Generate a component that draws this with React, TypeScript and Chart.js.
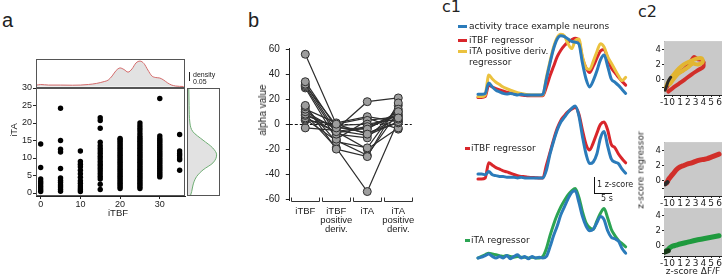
import React, { useEffect, useRef } from 'react';
import { Chart, registerables } from 'chart.js';

Chart.register(...registerables);

const SANS = '"Liberation Sans", Arial, sans-serif';
const DEJAVU = '"DejaVu Sans", sans-serif';
const INK = '#222';

// ---------------- Panel a: scatter iTBF vs iTA ----------------
const aColumnsITBF = [0, 5, 10, 15, 20, 25, 30, 35];
const aITAat0 = [14, 7.3, 4, 3.3, 2.7, 2.1, 1.5, 0.9, 0.4];
const aITAat5 = [24.2, 15, 12.5, 11.7, 7, 4.3, 3.6, 3, 2.3, 1.7, 1.1, 0.5];
const aITAat10 = [12, 9, 8.2, 7.5, 6.5, 5.5, 4.5, 3.5, 2.8, 2, 1.4, 0.9, 0.4];
const aITAat15 = [21.5, 20.7, 18.5, 14.5, 13.5, 12.7, 12, 11.3, 10.5, 9.8, 9, 8.3, 7.7, 7, 6.3, 5.5, 4.7, 4, 2.5, 1];
const aITAat20 = [1.3, 1.8, 2.3, 2.8, 3.3, 3.8, 4.3, 4.8, 5.3, 5.8, 6.3, 6.8, 7.3, 7.8, 8.3, 8.8, 9.3, 9.8, 10.3, 10.8, 11.3, 11.8, 12.3, 12.8, 13.3, 13.8, 14.3, 14.8, 15.3, 15.6];
const aITAat25 = [1.3, 1.8, 2.3, 2.8, 3.3, 3.8, 4.3, 4.8, 5.3, 5.8, 6.3, 6.8, 7.3, 7.8, 8.3, 8.8, 9.3, 9.8, 10.3, 10.8, 11.3, 11.8, 12.3, 12.8, 13.3, 13.8, 14.3, 14.8, 15.3, 15.8, 16.3, 17, 17.8, 18.5, 19.2, 20];
const aITAat30 = [27, 4.6, 5.1, 5.6, 6.1, 6.6, 7.1, 7.6, 8.1, 8.6, 9.1, 9.6, 10.1, 10.6, 11.1, 11.6, 12.1, 12.6, 13.1, 13.6, 14.1, 14.6, 15.1, 15.6, 16.3];
const aITAat35 = [16.7, 12, 11.3, 10.7, 10, 9.5, 6.5];
const aITAColumns = [aITAat0, aITAat5, aITAat10, aITAat15, aITAat20, aITAat25, aITAat30, aITAat35];
const aXTicks = [0, 10, 20, 30];
const aYTicks = [0, 5, 10, 15, 20, 25, 30];

const aDensityX = [-1, 0, 2, 5, 8, 10, 12, 14, 16, 17, 18, 19, 20, 21, 22, 23, 24, 25, 26, 27, 28, 29, 30, 31, 32, 33, 34, 36];
const aDensityITBF = [0.009, 0.0125, 0.009, 0.009, 0.008, 0.009, 0.0125, 0.019, 0.031, 0.04, 0.066, 0.1, 0.116, 0.106, 0.09, 0.11, 0.147, 0.159, 0.144, 0.103, 0.066, 0.056, 0.053, 0.04, 0.022, 0.009, 0.003, 0];
const aDensityYITA = [-0.8, 0.4, 2, 3.2, 4.7, 6.6, 8.6, 10.9, 12.9, 15.1, 17.5, 20, 25, 30];
const aDensityITA = [0.015, 0.023, 0.03, 0.0375, 0.054, 0.094, 0.156, 0.179, 0.154, 0.094, 0.031, 0.012, 0.007, 0.005];

// ---------------- Panel b: alpha values ----------------
const bCategories = [['iTBF'], ['iTBF', 'positive', 'deriv.'], ['iTA'], ['iTA', 'positive', 'deriv.']];
const bAlphaITBF = [56, 34, 32, 31, 30, 29, 15, 14, 12, 10, 8, 7, 5, 4, 3, -3, 9];
const bAlphaITBFDeriv = [0, -3, -6, -1, -8, -12, -20, -14, 1, -4, -19, -2, -6, -13, 0, -5, -7];
const bAlphaITA = [-8, -4, -2, 0, -11, 3, -26, -19, 6, 18, -54, -7, -20, -25, 5, -9, -3];
const bAlphaITADeriv = [5, 10, 8, 4, 12, 6, 17, 15, 2, 21, 3, 1, -3, 10, -4, 2, 7];
const bYTicks = [-60, -40, -20, 0, 20, 40, 60];

// ---------------- Panel c1: traces (z-score) ----------------
const c1Time = [0, 1, 2, 3, 4, 5, 6, 7, 8, 9, 10, 11, 12, 13, 14, 15, 16, 17, 18, 19, 20, 21, 22, 23, 24, 25, 26, 27, 28, 29, 30, 31, 32, 33, 34, 35, 36, 37, 38, 39, 40, 41];
const c1TopActivity = [0.05, 0.05, 0.1, 0.75, 0.5, 0.3, 0.2, 0.1, 0.06, 0.1, 0.05, 0, 0.05, 0, 0, 0, 0, 0, 0.05, 1.0, 2.0, 2.9, 3.5, 3.7, 3.65, 3.5, 3.35, 3.3, 3.2, 2.0, 1.0, 0.5, 0.9, 1.5, 2.2, 2.5, 1.8, 1.0, 0.8, 0.6, 0.35, 0.1];
const c1TopITBF = [-0.15, -0.15, -0.1, 0.62, 0.5, 0.4, 0.32, 0.25, 0.18, 0.12, 0.08, 0.04, 0, -0.03, -0.05, -0.05, -0.05, -0.05, -0.05, 0.5, 1.2, 1.8, 2.4, 2.8, 3.1, 3.3, 3.45, 3.55, 3.4, 2.3, 1.7, 1.4, 1.8, 2.3, 2.75, 2.85, 2.3, 1.7, 1.4, 1.1, 0.85, 0.62];
const c1TopITADeriv = [-0.1, -0.1, 0, 1.25, 1.0, 0.8, 0.65, 0.5, 0.4, 0.3, 0.22, 0.15, 0.1, 0.05, 0.02, 0, 0, 0, 0, 1.1, 2.1, 3.0, 3.6, 3.8, 3.7, 3.2, 2.9, 3.4, 3.5, 2.4, 1.7, 1.6, 2.1, 2.7, 3.2, 3.0, 2.4, 2.0, 1.6, 1.2, 0.9, 1.1];
const c1MidActivity = [0.25, 0.25, 0.2, 0.4, 0.2, 0.15, 0.1, 0.1, 0.05, 0.05, 0.05, 0, 0.05, 0, 0, 0, 0, 0, 0, 0.5, 1.5, 2.3, 3.0, 3.5, 3.8, 4.1, 4.35, 4.5, 3.9, 2.6, 1.5, 0.9, 1.0, 1.5, 2.5, 2.9, 2.0, 1.2, 1.0, 0.9, 0.55, 0.3];
const c1MidITBF = [-0.06, -0.06, 0, 0.95, 0.8, 0.65, 0.55, 0.45, 0.38, 0.3, 0.22, 0.15, 0.1, 0.08, 0.05, 0.03, 0.02, 0, 0, 0.8, 1.6, 2.4, 3.1, 3.6, 3.9, 4.15, 4.3, 4.4, 4.0, 3.0, 2.1, 1.75, 2.2, 2.8, 3.35, 3.5, 3.0, 2.1, 1.9, 1.5, 1.2, 0.95];
const c1BotActivity = [0, 0.05, 0.15, 0.25, 0.1, 0, 0.1, 0, 0.15, -0.05, 0.1, 0.2, 0, 0.1, -0.05, 0.1, 0, 0.05, 0, 0.1, 0.7, 1.4, 2.0, 2.7, 3.2, 3.7, 4.1, 4.2, 3.5, 2.6, 2.0, 1.7, 1.8, 2.2, 2.6, 2.4, 1.7, 1.3, 1.2, 1.05, 0.6, 0.3];
const c1BotITA = [0, 0.1, 0.2, 0.3, 0.25, 0.2, 0.15, 0.1, 0.15, 0.1, 0.05, 0.1, 0.05, 0.05, 0, 0.05, 0, 0, 0.1, 0.6, 1.4, 2.1, 2.7, 3.2, 3.6, 3.95, 4.2, 4.35, 3.8, 2.9, 2.2, 1.9, 1.8, 2.3, 2.8, 3.1, 2.5, 1.8, 1.4, 1.1, 0.9, 0.7];

// ---------------- Panel c2: regressor vs dF/F ----------------
const c2XTicks = [-1, 0, 1, 2, 3, 4, 5, 6];
const c2YTicks = [-1, 0, 2, 4];
const c2YLabelled = [0, 2, 4];
const c2P1RedUpperDF = [-0.8, -0.3, 0.3, 1, 1.6, 2.2, 2.8, 3.2, 3.8, 4.0];
const c2P1RedUpperReg = [-1.2, -0.3, 0.4, 1.0, 1.4, 2.1, 3.0, 2.7, 2.6, 2.3];
const c2P1RedLowerDF = [4.0, 4.0, 3.4, 2.5, 1.6, 0.8, 0, -0.5];
const c2P1RedLowerReg = [2.3, 1.7, 1.3, 0.7, 0.0, -0.6, -1.2, -1.6];
const c2P1YellowDF = [-0.9, -0.6, 0, 0.6, 1.2, 1.8, 2.5, 3.2, 3.8, 3.9, 3.3, 2.6, 2.0, 1.4, 0.8, 0.3, -0.3];
const c2P1YellowReg = [-1.3, -0.5, 0.4, 1.2, 1.8, 2.2, 2.5, 2.8, 2.8, 2.3, 2.0, 2.1, 1.6, 1.2, 0.8, 0.2, -0.6];
const c2P1BlackDF = [-0.9, -0.7, -0.5, -0.2];
const c2P1BlackReg = [-1.4, -0.8, -0.2, 0.3];
const c2P2RedDF = [-0.9, -0.7, -0.5, -0.2, 0.2, 0.6, 1.0, 1.5, 2, 2.5, 3, 3.5, 4, 4.5, 5, 5.5, 6];
const c2P2RedReg = [-0.4, -0.3, 0.1, 0.5, 1.0, 1.5, 1.8, 2.0, 2.2, 2.35, 2.55, 2.7, 2.8, 2.9, 3.1, 3.3, 3.5];
const c2P2BlackDF = [-0.9, -0.6];
const c2P2BlackReg = [-0.5, -0.2];
const c2P3GreenDF = [-0.9, -0.6, -0.3, 0, 0.5, 1, 2, 3, 4, 5, 6];
const c2P3GreenReg = [-0.8, -0.6, -0.3, -0.1, 0.05, 0.2, 0.45, 0.7, 0.9, 1.1, 1.3];
const c2P3BlackDF = [-1, -0.5];
const c2P3BlackReg = [-0.9, -0.7];

const BLUE = '#2b7bba';
const RED = '#d9262b';
const YELLOW = '#ebc23f';
const GREEN = '#2ca453';

const pairs = (xs: number[], ys: number[]) => xs.map((x, i) => ({ x, y: ys[i] }));

const baseOptions = (extra: any) => ({
  animation: false,
  responsive: false,
  maintainAspectRatio: false,
  devicePixelRatio: 1,
  events: [],
  plugins: { legend: { display: false }, tooltip: { enabled: false } },
  ...extra,
});

const framePlugin = (color: string) => ({
  id: 'frame',
  afterDatasetsDraw(chart: any) {
    const { ctx, chartArea } = chart;
    const l = Math.round(chartArea.left), t = Math.round(chartArea.top);
    const r = Math.round(chartArea.right), b = Math.round(chartArea.bottom);
    ctx.save();
    ctx.strokeStyle = color;
    ctx.lineWidth = 1;
    ctx.strokeRect(l + 0.5, t + 0.5, r - l - 1, b - t - 1);
    ctx.restore();
  },
});

const grayBgPlugin = {
  id: 'graybg',
  beforeDatasetsDraw(chart: any) {
    const { ctx, chartArea } = chart;
    ctx.save();
    ctx.fillStyle = '#c9c9c9';
    ctx.fillRect(chartArea.left, chartArea.top, chartArea.right - chartArea.left, chartArea.bottom - chartArea.top);
    ctx.restore();
  },
};

const zeroLinePlugin = {
  id: 'zeroline',
  beforeDatasetsDraw(chart: any) {
    const { ctx, chartArea, scales } = chart;
    const y = Math.round(scales.y.getPixelForValue(0)) + 0.5;
    ctx.save();
    ctx.strokeStyle = '#111';
    ctx.lineWidth = 1;
    ctx.setLineDash([3, 2]);
    ctx.beginPath();
    ctx.moveTo(chartArea.left, y);
    ctx.lineTo(chartArea.right - 2, y);
    ctx.stroke();
    ctx.restore();
  },
};

const bracketPlugin = {
  id: 'brackets',
  afterDraw(chart: any) {
    const { ctx, scales } = chart;
    const xs = scales.x;
    const y = Math.round(scales.y.bottom) + 1.5;
    ctx.save();
    ctx.strokeStyle = '#333';
    ctx.lineWidth = 1;
    for (let i = 0; i < bCategories.length; i++) {
      const c = xs.getPixelForTick(i);
      const l = Math.round(c - 14) + 0.5, r = Math.round(c + 14) + 0.5;
      ctx.beginPath();
      ctx.moveTo(l, y - 4);
      ctx.lineTo(l, y);
      ctx.lineTo(r, y);
      ctx.lineTo(r, y - 4);
      ctx.stroke();
    }
    ctx.restore();
  },
};

function ChartBox({ left, top, width, height, build }: { left: number; top: number; width: number; height: number; build: () => any }) {
  const ref = useRef<HTMLCanvasElement>(null);
  useEffect(() => {
    const chart = new Chart(ref.current as HTMLCanvasElement, build());
    return () => chart.destroy();
  }, []);
  return <canvas ref={ref} width={width} height={height} style={{ position: 'absolute', left, top, width, height }} />;
}

function Txt({ x, y, size, family, children, align, color }: any) {
  const tx = align === 'left' ? '0' : align === 'right' ? '-100%' : '-50%';
  return (
    <div
      style={{
        position: 'absolute', left: x, top: y,
        transform: `translate(${tx}, -50%)`,
        fontFamily: family || SANS, fontSize: size, lineHeight: 1,
        whiteSpace: 'nowrap', color: color || INK,
      }}
    >
      {children}
    </div>
  );
}

function Rotated({ x, y, size, family, children }: any) {
  return (
    <div
      style={{
        position: 'absolute', left: x, top: y,
        transform: 'translate(-50%, -50%) rotate(-90deg)',
        fontFamily: family || SANS, fontSize: size, lineHeight: 1,
        whiteSpace: 'nowrap', color: INK,
      }}
    >
      {children}
    </div>
  );
}

function Box({ x, y, w, h, color }: any) {
  return <div style={{ position: 'absolute', left: x, top: y, width: w, height: h, background: color }} />;
}

// ---------- chart builders ----------
const buildScatterA = () => ({
  type: 'scatter',
  data: {
    datasets: [
      {
        data: aColumnsITBF.flatMap((x, i) => aITAColumns[i].map((y) => ({ x, y }))),
        pointRadius: 2.7,
        pointBackgroundColor: '#000',
        pointBorderWidth: 0,
        borderWidth: 0,
      },
    ],
  },
  options: baseOptions({
    layout: { padding: { top: 10, right: 5, left: 0, bottom: 0 } },
    scales: {
      x: {
        type: 'linear', min: -1.18, max: 36.35,
        afterBuildTicks: (s: any) => { s.ticks = aXTicks.map((v) => ({ value: v })); },
        afterFit: (s: any) => { s.height = 30; },
        grid: { drawOnChartArea: false, tickLength: 3, color: INK },
        border: { color: INK },
        ticks: { font: { family: SANS, size: 9 }, color: INK, padding: 0, maxRotation: 0, autoSkip: false },
      },
      y: {
        type: 'linear', min: -0.857, max: 30,
        afterBuildTicks: (s: any) => { s.ticks = aYTicks.map((v) => ({ value: v })); },
        afterFit: (s: any) => { s.width = 36; },
        grid: { drawOnChartArea: false, tickLength: 3, color: INK },
        border: { color: INK },
        ticks: { font: { family: SANS, size: 9 }, color: INK, padding: 1, autoSkip: false },
      },
    },
  }),
  plugins: [framePlugin('#555')],
});

const buildTopDensity = () => ({
  type: 'line',
  data: {
    datasets: [
      {
        data: pairs(aDensityX, aDensityITBF),
        borderColor: '#d46b6b', borderWidth: 1, backgroundColor: '#e2e2e2',
        fill: 'origin', pointRadius: 0, cubicInterpolationMode: 'monotone',
      },
    ],
  },
  options: baseOptions({
    layout: { padding: 1 },
    scales: {
      x: { type: 'linear', display: false, min: -1.18, max: 36.35 },
      y: { type: 'linear', display: false, min: -0.0094, max: 0.172 },
    },
  }),
  plugins: [framePlugin('#555')],
});

const buildRightDensity = () => ({
  type: 'line',
  data: {
    datasets: [
      {
        data: pairs(aDensityITA, aDensityYITA),
        borderColor: '#6fae74', borderWidth: 1, backgroundColor: '#e2e2e2',
        fill: 'origin', pointRadius: 0, cubicInterpolationMode: 'monotone',
      },
    ],
  },
  options: baseOptions({
    indexAxis: 'y',
    layout: { padding: 1 },
    scales: {
      x: { type: 'linear', display: false, min: -0.00625, max: 0.2 },
      y: { type: 'linear', display: false, min: -0.857, max: 30 },
    },
  }),
  plugins: [framePlugin('#555')],
});

const buildAlpha = () => {
  const rows = bAlphaITBF.map((v, i) => [v, bAlphaITBFDeriv[i], bAlphaITA[i], bAlphaITADeriv[i]]);
  const lineSets = rows.map((r) => ({
    data: r, borderColor: '#2e2e2e', borderWidth: 1.2, pointRadius: 0, order: 1,
  }));
  const pointSets = rows.map((r) => ({
    data: r, showLine: false, pointRadius: 4, pointBackgroundColor: '#9d9d9d',
    pointBorderColor: '#2e2e2e', pointBorderWidth: 1, order: 0,
  }));
  return {
    type: 'line',
    data: { labels: bCategories, datasets: [...lineSets, ...pointSets] },
    options: baseOptions({
      layout: { padding: { top: 8.7, right: 5, left: 0, bottom: 0 } },
      scales: {
        x: {
          type: 'category', offset: true,
          grid: { display: false, drawTicks: false },
          border: { display: false },
          afterFit: (s: any) => { s.height = 35.7; },
          ticks: { font: { family: SANS, size: 9.5, lineHeight: '8.8px' }, color: INK, padding: 7, maxRotation: 0, autoSkip: false },
        },
        y: {
          type: 'linear', min: -61, max: 61,
          afterBuildTicks: (s: any) => { s.ticks = bYTicks.map((v) => ({ value: v })); },
          afterFit: (s: any) => { s.width = 49.8; },
          grid: { drawOnChartArea: false, tickLength: 4, color: INK },
          border: { color: INK },
          ticks: { font: { family: SANS, size: 10 }, color: INK, padding: 6, autoSkip: false },
        },
      },
    }),
    plugins: [zeroLinePlugin, bracketPlugin],
  };
};

const traceSet = (values: number[], color: string) => ({
  data: pairs(c1Time, values),
  borderColor: color, borderWidth: 3, pointRadius: 0,
  cubicInterpolationMode: 'monotone', borderCapStyle: 'round', borderJoinStyle: 'round',
});

const buildTraces = (sets: any[], yMin: number, yMax: number) => () => ({
  type: 'line',
  data: { datasets: sets },
  options: baseOptions({
    layout: { padding: 0 },
    scales: {
      x: { type: 'linear', display: false, min: -1.1, max: 42.2 },
      y: { type: 'linear', display: false, min: yMin, max: yMax },
    },
  }),
});

const band = (xs: number[], ys: number[], color: string, width: number) => ({
  data: pairs(xs, ys), showLine: true, borderColor: color, borderWidth: width,
  pointRadius: 0, tension: 0.3, borderCapStyle: 'round', borderJoinStyle: 'round',
});

const buildC2 = (sets: any[], yMin: number, yMax: number) => () => ({
  type: 'scatter',
  data: { datasets: sets },
  options: baseOptions({
    layout: { padding: { top: 4, right: 0, left: 0, bottom: 0 } },
    scales: {
      x: {
        type: 'linear', min: -1.05, max: 6.38,
        afterBuildTicks: (s: any) => { s.ticks = c2XTicks.map((v) => ({ value: v })); },
        afterFit: (s: any) => { s.height = 12; },
        grid: { drawOnChartArea: false, tickLength: 2, color: INK },
        border: { color: INK },
        ticks: { font: { family: DEJAVU, size: 9 }, color: INK, padding: 0, maxRotation: 0, autoSkip: false },
      },
      y: {
        type: 'linear', min: yMin, max: yMax,
        afterBuildTicks: (s: any) => { s.ticks = c2YTicks.map((v) => ({ value: v })); },
        afterFit: (s: any) => { s.width = 24; },
        grid: { drawOnChartArea: false, tickLength: 2, color: INK },
        border: { color: INK },
        ticks: {
          font: { family: DEJAVU, size: 8.5 }, color: INK, padding: 1, autoSkip: false,
          callback: (v: number) => (c2YLabelled.includes(v) ? String(v) : ''),
        },
      },
    },
  }),
  plugins: [grayBgPlugin],
});

function LegendLine({ x, y, w, color }: any) {
  return <Box x={x} y={y - 1.5} w={w} h={3} color={color} />;
}

export default function App() {
  return (
    <div style={{ position: 'absolute', left: 0, top: 0, width: 722, height: 274, background: '#fff', overflow: 'hidden' }}>
      {/* panel labels */}
      <Txt x={2} y={20} size={20} align="left">a</Txt>
      <Txt x={248} y={20} size={20} align="left">b</Txt>
      <Txt x={442} y={7} size={16} family={DEJAVU} align="left">c1</Txt>
      <Txt x={638} y={12} size={16} family={DEJAVU} align="left">c2</Txt>

      {/* panel a */}
      <ChartBox left={0} top={78} width={190} height={148} build={buildScatterA} />
      <ChartBox left={35} top={58} width={151} height={31} build={buildTopDensity} />
      <ChartBox left={186} top={87} width={35} height={110} build={buildRightDensity} />
      <Rotated x={13.5} y={130} size={9.5}>iTA</Rotated>
      <Txt x={118} y={212.5} size={9.5}>iTBF</Txt>
      <Box x={189} y={72} w={1.2} h={8.5} color="#222" />
      <Txt x={193} y={73.5} size={7} align="left">density</Txt>
      <Txt x={193} y={81} size={7} align="left">0.05</Txt>

      {/* panel b */}
      <ChartBox left={240} top={36} width={182} height={200} build={buildAlpha} />
      <Rotated x={263} y={110} size={10}>alpha value</Rotated>

      {/* panel c1 */}
      <ChartBox left={474} top={28} width={156} height={75}
        build={buildTraces([traceSet(c1TopActivity, BLUE), traceSet(c1TopITADeriv, YELLOW), traceSet(c1TopITBF, RED)], -0.5, 4.1875)} />
      <ChartBox left={474} top={100} width={156} height={85}
        build={buildTraces([traceSet(c1MidActivity, BLUE), traceSet(c1MidITBF, RED)], -0.4375, 4.875)} />
      <ChartBox left={474} top={182} width={156} height={84}
        build={buildTraces([traceSet(c1BotActivity, BLUE), traceSet(c1BotITA, GREEN)], -0.5, 4.75)} />
      <LegendLine x={458} y={26} w={9} color={BLUE} />
      <Txt x={469} y={26} size={9} family={DEJAVU} align="left">activity trace example neurons</Txt>
      <LegendLine x={458} y={40} w={9} color={RED} />
      <Txt x={469} y={40} size={9} family={DEJAVU} align="left">iTBF regressor</Txt>
      <LegendLine x={458} y={51} w={9} color={YELLOW} />
      <Txt x={469} y={51} size={9} family={DEJAVU} align="left">iTA positive deriv.</Txt>
      <Txt x={469} y={62} size={9} family={DEJAVU} align="left">regressor</Txt>
      <LegendLine x={465} y={148} w={5} color={RED} />
      <Txt x={471} y={148} size={9} family={DEJAVU} align="left">iTBF regressor</Txt>
      <LegendLine x={465} y={240} w={5} color={GREEN} />
      <Txt x={471} y={240} size={9} family={DEJAVU} align="left">iTA regressor</Txt>
      <Box x={594} y={177} w={1} h={16} color="#111" />
      <Box x={594} y={192.5} w={18} h={1} color="#111" />
      <Txt x={597} y={185} size={8} family={DEJAVU} align="left">1 z-score</Txt>
      <Txt x={607} y={198.5} size={8} family={DEJAVU}>5 s</Txt>

      {/* panel c2 */}
      <ChartBox left={640} top={35} width={82} height={72}
        build={buildC2([
          band(c2P1BlackDF, c2P1BlackReg, '#2a2a2a', 3),
          band(c2P1YellowDF, c2P1YellowReg, '#e2b531', 4),
          band(c2P1RedUpperDF, c2P1RedUpperReg, '#d12f2a', 4),
          band(c2P1RedLowerDF, c2P1RedLowerReg, '#d12f2a', 4),
        ], -2.05, 5.1)} />
      <ChartBox left={640} top={136} width={82} height={72}
        build={buildC2([
          band(c2P2BlackDF, c2P2BlackReg, '#2a2a2a', 4),
          band(c2P2RedDF, c2P2RedReg, '#d12f2a', 5),
        ], -2.05, 5.1)} />
      <ChartBox left={640} top={202} width={82} height={66}
        build={buildC2([
          band(c2P3BlackDF, c2P3BlackReg, '#1a3a1a', 5),
          band(c2P3GreenDF, c2P3GreenReg, '#1f9a3e', 5),
        ], -1.4, 5)} />
      <Rotated x={641} y={170} size={9} family={DEJAVU}>z-score regressor</Rotated>
      <Txt x={693} y={270.5} size={9} family={DEJAVU}>z-score ΔF/F</Txt>
    </div>
  );
}
